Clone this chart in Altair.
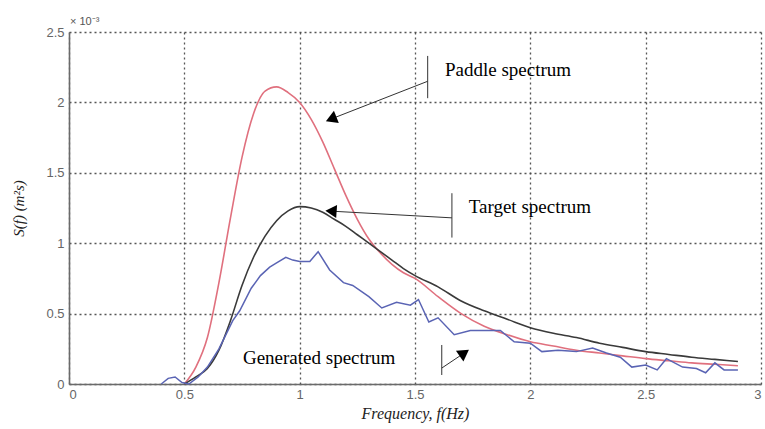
import altair as alt
import pandas as pd

# ---- data (S(f) in units of 1e-3 m^2 s) ----
paddle_x = [0.50,0.55,0.60,0.65,0.70,0.75,0.80,0.85,0.90,0.95,1.00,1.05,1.10,1.15,1.20,1.25,1.30,1.35,1.40,1.45,1.50,1.60,1.70,1.80,1.90,2.00,2.10,2.20,2.30,2.40,2.50,2.60,2.70,2.80,2.90]
paddle_y = [0.00,0.12,0.33,0.72,1.18,1.61,1.92,2.08,2.11,2.07,2.00,1.88,1.72,1.53,1.34,1.17,1.03,0.93,0.85,0.79,0.75,0.62,0.50,0.41,0.35,0.30,0.27,0.24,0.22,0.20,0.18,0.165,0.15,0.14,0.13]

target_x = [0.50,0.55,0.60,0.65,0.70,0.75,0.80,0.85,0.90,0.95,1.00,1.05,1.10,1.15,1.20,1.25,1.30,1.35,1.40,1.45,1.50,1.60,1.70,1.80,1.90,2.00,2.10,2.20,2.30,2.40,2.50,2.60,2.70,2.80,2.90]
target_y = [0.00,0.05,0.11,0.24,0.45,0.70,0.90,1.05,1.16,1.23,1.26,1.25,1.22,1.17,1.12,1.06,1.00,0.94,0.88,0.82,0.77,0.69,0.59,0.52,0.46,0.40,0.36,0.33,0.29,0.26,0.23,0.21,0.19,0.175,0.16]

gen_x = [0.40,0.43,0.46,0.49,0.52,0.56,0.60,0.65,0.71,0.74,0.79,0.83,0.87,0.90,0.94,0.97,1.00,1.044,1.08,1.13,1.19,1.23,1.30,1.356,1.42,1.48,1.515,1.56,1.60,1.67,1.74,1.87,1.93,2.00,2.05,2.12,2.20,2.27,2.33,2.39,2.44,2.50,2.55,2.59,2.66,2.72,2.76,2.80,2.84,2.90]
gen_y = [0.00,0.04,0.05,0.01,0.00,0.05,0.12,0.25,0.45,0.52,0.68,0.77,0.83,0.86,0.90,0.88,0.87,0.87,0.94,0.81,0.72,0.70,0.62,0.54,0.58,0.56,0.60,0.44,0.47,0.35,0.38,0.38,0.30,0.29,0.23,0.24,0.23,0.255,0.22,0.19,0.12,0.135,0.10,0.18,0.12,0.11,0.08,0.15,0.10,0.10]

series_names = ["Paddle", "Target", "Generated"]
series_colors = ["#e0707e", "#3a3a3a", "#5a64b4"]

# ---- annotations (data coordinates) ----
ann_text = ["Paddle spectrum", "Target spectrum", "Generated spectrum"]
ann_text_x = [1.63, 1.733, 0.754]
ann_text_y = [2.23, 1.255, 0.184]
bar_x = [1.555, 1.66, 1.616]
bar_y1 = [2.33, 1.355, 0.277]
bar_y2 = [2.03, 1.04, 0.064]
line_start_x = [1.555, 1.66, 1.616]
line_start_y = [2.15, 1.18, 0.113]
head_x = [1.144, 1.144, 1.707]
head_y = [1.887, 1.227, 0.213]
head_angle = [248, 274, 55]

x_ticks = [0, 0.5, 1, 1.5, 2, 2.5, 3]
y_ticks = [0, 0.5, 1, 1.5, 2, 2.5]

SERIF = "'Liberation Serif', 'Times New Roman', Times, serif"
SANS = "'Liberation Sans', Arial, Helvetica, sans-serif"

rows = []
for name, xs, ys in [("Paddle", paddle_x, paddle_y), ("Target", target_x, target_y), ("Generated", gen_x, gen_y)]:
    for i, (a, b) in enumerate(zip(xs, ys)):
        rows.append({"series": name, "f": a, "S": b, "i": i})
df = pd.DataFrame(rows)

ann = pd.DataFrame({
    "text": ann_text, "tx": ann_text_x, "ty": ann_text_y,
    "bx": bar_x, "by1": bar_y1, "by2": bar_y2,
    "lx": line_start_x, "ly": line_start_y,
    "hx": head_x, "hy": head_y, "ang": head_angle,
})

xscale = alt.Scale(domain=[0, 3], nice=False, zero=False)
yscale = alt.Scale(domain=[0, 2.5], nice=False)

xaxis = alt.Axis(values=x_ticks, format=".1~f", title="Frequency, f(Hz)",
                 titleFont=SERIF, titleFontStyle="italic", titleFontWeight="normal",
                 titleFontSize=16, titleColor="#222", titlePadding=4,
                 labelFont=SANS, labelFontSize=13, labelColor="#666",
                 labelPadding=4, ticks=False, domainColor="#6a6a6a", domainWidth=1.6,
                 grid=True, gridDash=[2, 3], gridColor="#444", gridWidth=1.3, gridOpacity=0.9)
yaxis = alt.Axis(values=y_ticks, format=".1~f", title="S(f)  (m²s)",
                 titleFont=SERIF, titleFontStyle="italic", titleFontWeight="normal",
                 titleFontSize=15, titleColor="#222", titlePadding=19,
                 labelFont=SANS, labelFontSize=13, labelColor="#666",
                 labelPadding=5, ticks=False, domainColor="#6a6a6a", domainWidth=1.6,
                 grid=True, gridDash=[2, 3], gridColor="#444", gridWidth=1.3, gridOpacity=0.9)

color = alt.Color("series:N", scale=alt.Scale(domain=series_names, range=series_colors), legend=None)

smooth = alt.Chart(df[df.series != "Generated"]).mark_line(strokeWidth=1.6, interpolate="monotone").encode(
    x=alt.X("f:Q", scale=xscale, axis=xaxis),
    y=alt.Y("S:Q", scale=yscale, axis=yaxis),
    color=color,
    order="i:Q",
)
gen = alt.Chart(df[df.series == "Generated"]).mark_line(strokeWidth=1.5).encode(
    x=alt.X("f:Q", scale=xscale),
    y=alt.Y("S:Q", scale=yscale),
    color=color,
    order="i:Q",
)

base = alt.Chart(ann)
bars = base.mark_rule(color="#333", strokeWidth=1).encode(
    x=alt.X("bx:Q", scale=xscale), y=alt.Y("by1:Q", scale=yscale), y2="by2:Q")
arrows = base.mark_rule(color="#333", strokeWidth=1).encode(
    x=alt.X("lx:Q", scale=xscale), y=alt.Y("ly:Q", scale=yscale), x2="hx:Q", y2="hy:Q")
heads = base.mark_point(shape="triangle", filled=True, color="#000", opacity=1, size=170).encode(
    x=alt.X("hx:Q", scale=xscale), y=alt.Y("hy:Q", scale=yscale), angle=alt.Angle("ang:Q", scale=None))
texts = base.mark_text(font=SERIF, fontSize=19, align="left", baseline="middle", color="#000").encode(
    x=alt.X("tx:Q", scale=xscale), y=alt.Y("ty:Q", scale=yscale), text="text:N")

exp_df = pd.DataFrame({"x": [0.0], "y": [2.5], "t": ["× 10⁻³"]})
exponent = alt.Chart(exp_df).mark_text(font=SANS, fontSize=11, align="left", baseline="bottom",
                                      color="#555", dx=1, dy=-5).encode(
    x=alt.X("x:Q", scale=xscale), y=alt.Y("y:Q", scale=yscale), text="t:N")

chart = alt.layer(smooth, gen, bars, arrows, heads, texts, exponent).properties(
    width=692, height=352,
    autosize=alt.AutoSizeParams(type="none"),
    padding={"left": 69, "top": 32, "right": 4, "bottom": 45},
    background="white",
).configure_view(stroke=None)

chart.save("out.html", embed_options={"renderer": "svg", "actions": False})
